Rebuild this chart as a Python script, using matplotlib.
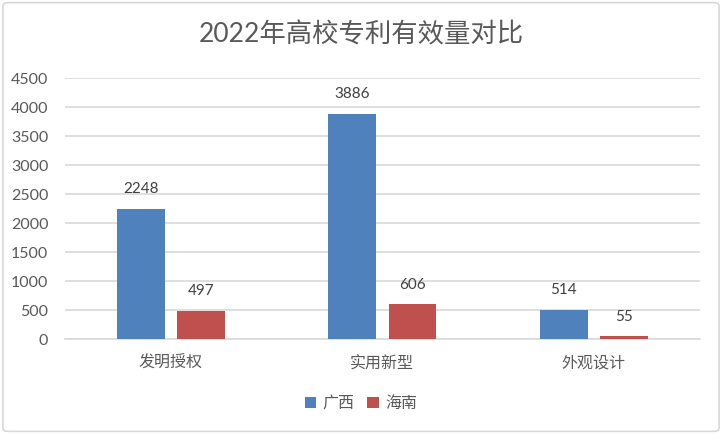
import numpy as np
import matplotlib.pyplot as plt
from matplotlib.patches import FancyBboxPatch

plt.rcParams['font.family'] = ['Lato', 'Noto Sans CJK SC', 'DejaVu Sans']

# data
categories = ['发明授权', '实用新型', '外观设计']
series_names = ['广西', '海南']
guangxi = [2248, 3886, 514]
hainan = [497, 606, 55]
colors = ['#4F81BD', '#C0504D']

fig = plt.figure(figsize=(7.22, 4.34), dpi=100)
ax = fig.add_axes([0.0900, 0.218, 0.879, 0.602])

# outer chart frame
fig.patches.append(FancyBboxPatch((0.004, 0.006), 0.992, 0.988,
                                  boxstyle='round,pad=0,rounding_size=0.008',
                                  transform=fig.transFigure, fill=False,
                                  edgecolor='#D9D9D9', linewidth=1.2))

x = np.arange(len(categories))
w = 0.225
off = 0.142
b1 = ax.bar(x - off, guangxi, w, color=colors[0], label=series_names[0], zorder=3)
b2 = ax.bar(x + off, hainan, w, color=colors[1], label=series_names[1], zorder=3)

for bars in (b1, b2):
    for b in bars:
        ax.annotate(f'{int(b.get_height())}', (b.get_x() + b.get_width() / 2, b.get_height()),
                    xytext=(0, 9), textcoords='offset points', ha='center', va='bottom',
                    fontsize=11, color='#404040')

ax.set_xlim(-0.5, 2.5)
ax.set_ylim(0, 4500)
ax.set_yticks(np.arange(0, 4501, 500))
ax.yaxis.grid(True, color='#D9D9D9', linewidth=1.2, zorder=0)
ax.set_xticks(x)
ax.set_xticklabels(categories, fontsize=11.5, color='#595959')
ax.tick_params(axis='y', labelsize=11.5, labelcolor='#595959', length=0, pad=12)
ax.tick_params(axis='x', length=0, pad=12)
for s in ['top', 'right', 'left']:
    ax.spines[s].set_visible(False)
ax.spines['bottom'].set_color('#D9D9D9')
ax.spines['bottom'].set_linewidth(1.2)

fig.text(0.5, 0.92, '2022年高校专利有效量对比', ha='center', va='center',
         fontsize=19, color='#595959')

fig.legend(loc='center', bbox_to_anchor=(0.5, 0.07), ncol=2, frameon=False,
           fontsize=11.5, handlelength=0.7, handleheight=0.7, handletextpad=0.4,
           columnspacing=0.8, labelcolor='#595959')

fig.savefig('out.png', dpi=100)
